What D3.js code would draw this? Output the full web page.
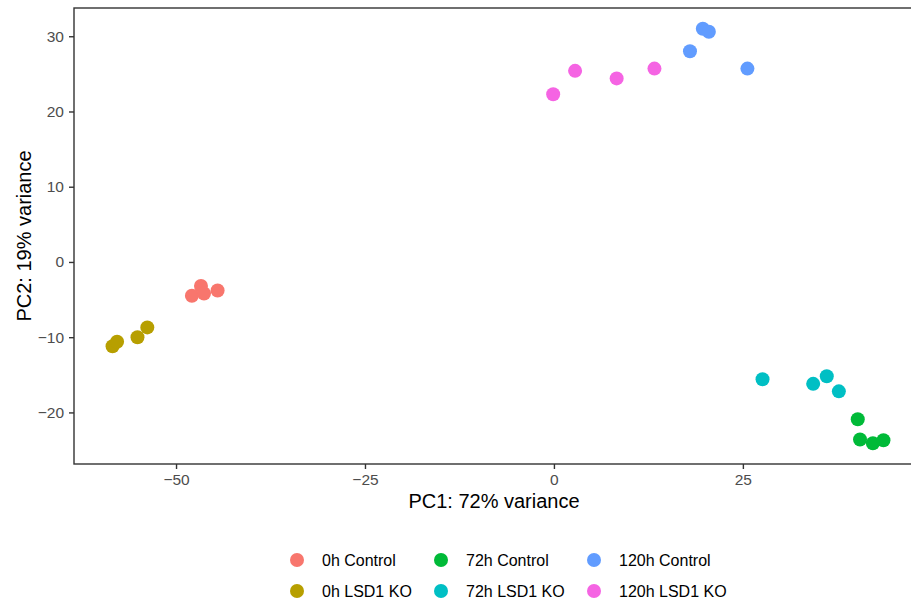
<!DOCTYPE html>
<html lang="en">
<head>
  <meta charset="UTF-8">
  <title>PCA plot</title>
  <script src="https://d3js.org/d3.v7.min.js"></script>
  <style>
    body { margin: 0; background: #fff; }
    svg { display: block; font-family: "Liberation Sans", Arial, sans-serif; }
    .tick text { fill: #4d4d4d; font-size: 15.5px; }
    .axis-title { fill: #000; font-size: 20px; }
    .legend text { fill: #000; font-size: 16px; }
  </style>
</head>
<body>
  <svg id="chart" width="911" height="605"></svg>
  <script>
    // groups, in legend order (column by column)
    const groups = ['0h Control', '0h LSD1 KO', '72h Control', '72h LSD1 KO', '120h Control', '120h LSD1 KO'];
    const colors = ['#F8766D', '#B79F00', '#00BA38', '#00BFC4', '#619CFF', '#F564E3'];

    // PC1 / PC2 scores per group
    const pc1_0hCtrl = [-47.9, -46.7, -46.3, -44.5];
    const pc2_0hCtrl = [-4.5, -3.2, -4.2, -3.8];
    const pc1_0hKO = [-58.4, -57.8, -55.1, -53.8];
    const pc2_0hKO = [-11.2, -10.6, -10.0, -8.7];
    const pc1_72hCtrl = [40.2, 40.5, 42.2, 43.6];
    const pc2_72hCtrl = [-20.9, -23.6, -24.1, -23.7];
    const pc1_72hKO = [27.6, 34.3, 36.1, 37.7];
    const pc2_72hKO = [-15.6, -16.2, -15.2, -17.2];
    const pc1_120hCtrl = [18.0, 19.7, 20.5, 25.6];
    const pc2_120hCtrl = [28.0, 31.0, 30.6, 25.7];
    const pc1_120hKO = [-0.1, 2.8, 8.3, 13.3];
    const pc2_120hKO = [22.3, 25.4, 24.4, 25.7];

    const xTicks = [-50, -25, 0, 25];
    const yTicks = [-20, -10, 0, 10, 20, 30];

    const series = [
      [pc1_0hCtrl, pc2_0hCtrl], [pc1_0hKO, pc2_0hKO],
      [pc1_72hCtrl, pc2_72hCtrl], [pc1_72hKO, pc2_72hKO],
      [pc1_120hCtrl, pc2_120hCtrl], [pc1_120hKO, pc2_120hKO]
    ];
    const points = [];
    series.forEach(([xs, ys], g) => xs.forEach((x, i) => points.push({ x, y: ys[i], g })));

    const svg = d3.select('#chart');
    const mLeft = 74, mTop = 8, mRight = 922, mBottom = 464;

    // ggplot-style 5% expansion
    function expand(ext) { const d = (ext[1] - ext[0]) * 0.05; return [ext[0] - d, ext[1] + d]; }
    const x = d3.scaleLinear().domain(expand(d3.extent(points, d => d.x))).range([mLeft, mRight]);
    const y = d3.scaleLinear().domain(expand(d3.extent(points, d => d.y))).range([mBottom, mTop]);

    const color = d3.scaleOrdinal().domain(groups).range(colors);

    // panel border
    svg.append('rect')
      .attr('x', mLeft).attr('y', mTop)
      .attr('width', mRight - mLeft).attr('height', mBottom - mTop)
      .attr('fill', 'none').attr('stroke', '#333').attr('stroke-width', 1.4);

    const xAxis = svg.append('g')
      .attr('transform', `translate(0,${mBottom})`)
      .call(d3.axisBottom(x).tickValues(xTicks).tickSize(5).tickPadding(5).tickFormat(d3.format('d')));
    const yAxis = svg.append('g')
      .attr('transform', `translate(${mLeft},0)`)
      .call(d3.axisLeft(y).tickValues(yTicks).tickSize(5).tickPadding(5).tickFormat(d3.format('d')));
    [xAxis, yAxis].forEach(a => {
      a.select('.domain').remove();
      a.selectAll('.tick line').attr('stroke', '#333').attr('stroke-width', 1.4);
      a.attr('font-family', null).attr('font-size', null);
    });

    svg.append('g').selectAll('circle')
      .data(points)
      .join('circle')
      .attr('cx', d => x(d.x))
      .attr('cy', d => y(d.y))
      .attr('r', 7)
      .attr('fill', d => color(groups[d.g]));

    svg.append('text').attr('class', 'axis-title')
      .attr('x', (mLeft + mRight) / 2 - 4).attr('y', 508)
      .attr('text-anchor', 'middle')
      .text('PC1: 72% variance');
    svg.append('text').attr('class', 'axis-title')
      .attr('transform', `translate(31,${(mTop + mBottom) / 2}) rotate(-90)`)
      .attr('text-anchor', 'middle')
      .text('PC2: 19% variance');

    // legend: 3 columns x 2 rows
    const legendX = [297, 441, 594];
    const legendY = [560, 591];
    const legend = svg.append('g').attr('class', 'legend')
      .selectAll('g')
      .data(groups)
      .join('g')
      .attr('transform', (d, i) => `translate(${legendX[Math.floor(i / 2)]},${legendY[i % 2]})`);
    legend.append('circle').attr('r', 7).attr('fill', d => color(d));
    legend.append('text').attr('x', 25).attr('y', 6).text(d => d);
  </script>
</body>
</html>
